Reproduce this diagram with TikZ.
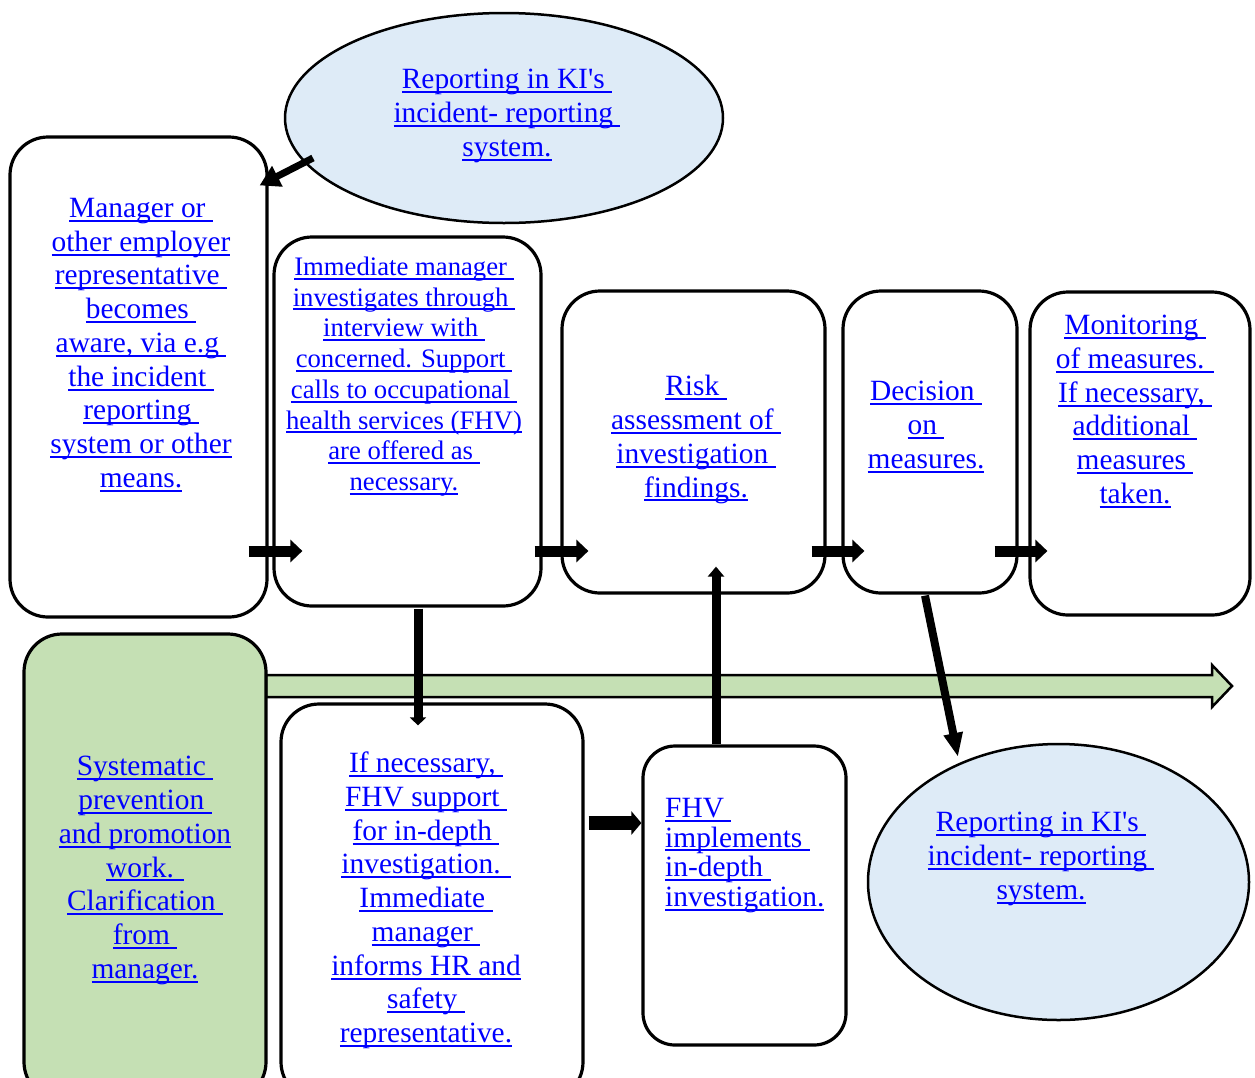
\documentclass[tikz,border=0pt]{standalone}
\usepackage{fontspec}
\setmainfont{Liberation Serif}[Ligatures=TeXOff]
\usetikzlibrary{arrows.meta,calc,shapes.geometric}
\definecolor{lnkblue}{HTML}{0000FF}
\definecolor{ovalblue}{HTML}{DEEBF7}
\definecolor{prevgreen}{HTML}{C5E0B4}
\newcommand\lk[1]{\leavevmode\setbox0\hbox{#1}\rlap{\copy0}\rule[-4.3pt]{\wd0}{2pt}}
\tikzset{
  box/.style={draw,line width=3.2pt,rounded corners=38pt,fill=white,inner sep=0pt},
  oval/.style={ellipse,draw,line width=2.5pt,fill=ovalblue,inner sep=0pt},
  txt/.style={text=lnkblue,align=center,inner sep=0pt,yshift=-3pt,font=\fontsize{29.4}{33.75}\selectfont},
  stxt/.style={txt,font=\fontsize{26.7}{30.75}\selectfont},
  flow/.style={line width=11pt,-{Triangle[length=12pt,width=22pt]}},
  drop/.style={line width=9pt,-{Triangle[length=8pt,width=16pt]}}
}
\begin{document}
\begin{tikzpicture}[x=1pt,y=-1pt]
  \useasboundingbox (0,0) rectangle (1255,1077);
  \clip (0,0) rectangle (1255,1077);
  \draw[line width=2.5pt,fill=prevgreen] (266,675) -- (1212,675) -- (1212,665) -- (1232,686)
    -- (1212,707) -- (1212,697) -- (266,697) -- cycle;
  \node[oval,minimum width=438pt,minimum height=210pt] (rep1) at (504,118) {};
  \node[box,minimum width=257pt,minimum height=480pt] (aware) at (138.5,377) {};
  \node[box,minimum width=267pt,minimum height=369pt] (invest) at (407.5,421.5) {};
  \node[box,minimum width=263pt,minimum height=302pt] (risk) at (693.5,442) {};
  \node[box,minimum width=174pt,minimum height=302pt] (decide) at (930,442) {};
  \node[box,minimum width=220pt,minimum height=323pt] (monitor) at (1140,453.5) {};
  \node[box,fill=prevgreen,minimum width=242pt,minimum height=466pt] (prev) at (145,867) {};
  \node[box,minimum width=302pt,minimum height=396pt] (fhvsup) at (432,902) {};
  \node[box,rounded corners=32pt,minimum width=203pt,minimum height=299pt] (fhvimp) at (744.5,895.5) {};
  \node[oval,minimum width=381pt,minimum height=276pt] (rep2) at (1058.5,882) {};

  \node[txt] (rep1t) at (507,113) {\lk{Reporting in KI\char"27s }\\\lk{incident- reporting }\\\lk{system.}};
  \node[txt] (awaret) at (141,342) {\lk{Manager or }\\\lk{other employer}\\\lk{representative }\\\lk{becomes }\\
    \lk{aware, via e.g }\\\lk{the incident }\\\lk{reporting }\\\lk{system or other}\\\lk{means.}};
  \node[stxt] (investt) at (404,373.5) {\lk{Immediate manager }\\\lk{investigates through }\\\lk{interview with }\\
    \lk{concerned. Support }\\\lk{calls to occupational }\\\lk{health services (FHV)}\\\lk{are offered as }\\\lk{necessary.}};
  \node[txt] (riskt) at (696,436.5) {\lk{Risk }\\\lk{assessment of }\\\lk{investigation }\\\lk{findings.}};
  \node[txt] (decidet) at (926,424) {\lk{Decision }\\\lk{on }\\\lk{measures.}};
  \node[txt] (monitort) at (1135,408.5) {\lk{Monitoring }\\\lk{of measures. }\\\lk{If necessary, }\\\lk{additional }\\
    \lk{measures }\\\lk{taken.}};
  \node[txt] (prevt) at (145,867.5) {\lk{Systematic }\\\lk{prevention }\\\lk{and promotion}\\\lk{work. }\\
    \lk{Clarification }\\\lk{from }\\\lk{manager.}};
  \node[txt] (fhvsupt) at (426,897.5) {\lk{If necessary, }\\\lk{FHV support }\\\lk{for in-depth }\\\lk{investigation. }\\
    \lk{Immediate }\\\lk{manager }\\\lk{informs HR and}\\\lk{safety }\\\lk{representative.}};
  \node[txt,align=left,anchor=west,font=\fontsize{29.4}{29.7}\selectfont] (fhvimpt) at (665,852.5)
    {\lk{FHV }\\\lk{implements }\\\lk{in-depth }\\\lk{investigation.}};
  \node[txt] (rep2t) at (1041,856) {\lk{Reporting in KI\char"27s }\\\lk{incident- reporting }\\\lk{system.}};

  \coordinate (row) at (0,551);
  \draw[line width=7pt,-{Triangle[length=20pt,width=22pt]}] ($(rep1.center)+(-191,40)$) -- ($(aware.north east)+(-9,50)$);
  \draw[flow] ($(aware.east |- row)+(-20,0)$) -- ($(invest.west |- row)+(30,0)$);
  \draw[flow] ($(invest.east |- row)+(-8,0)$) -- ($(risk.west |- row)+(28,0)$);
  \draw[flow] ($(risk.east |- row)+(-15,0)$) -- ($(decide.west |- row)+(23,0)$);
  \draw[flow] ($(decide.east |- row)+(-24,0)$) -- ($(monitor.west |- row)+(19,0)$);
  \draw[drop] ($(invest.south)+(10.5,1)$) -- ($(fhvsup.north)+(-14,23)$);
  \draw[drop,-{Triangle[length=10pt,width=16pt]}] ($(fhvimp.north)+(-28.5,0)$) -- ($(risk.south)+(22.5,-28)$);
  \draw[line width=14pt,-{Triangle[length=10pt,width=23pt]}] ($(fhvsup.east |- 0,823)+(4,0)$) -- (fhvimp.west |- 0,823);
  \draw[line width=8pt,-{Triangle[length=24pt,width=18pt]}] ($(decide.south)+(-5,1)$) -- ($(rep2.center)+(-100.5,-125)$);
\end{tikzpicture}
\end{document}
